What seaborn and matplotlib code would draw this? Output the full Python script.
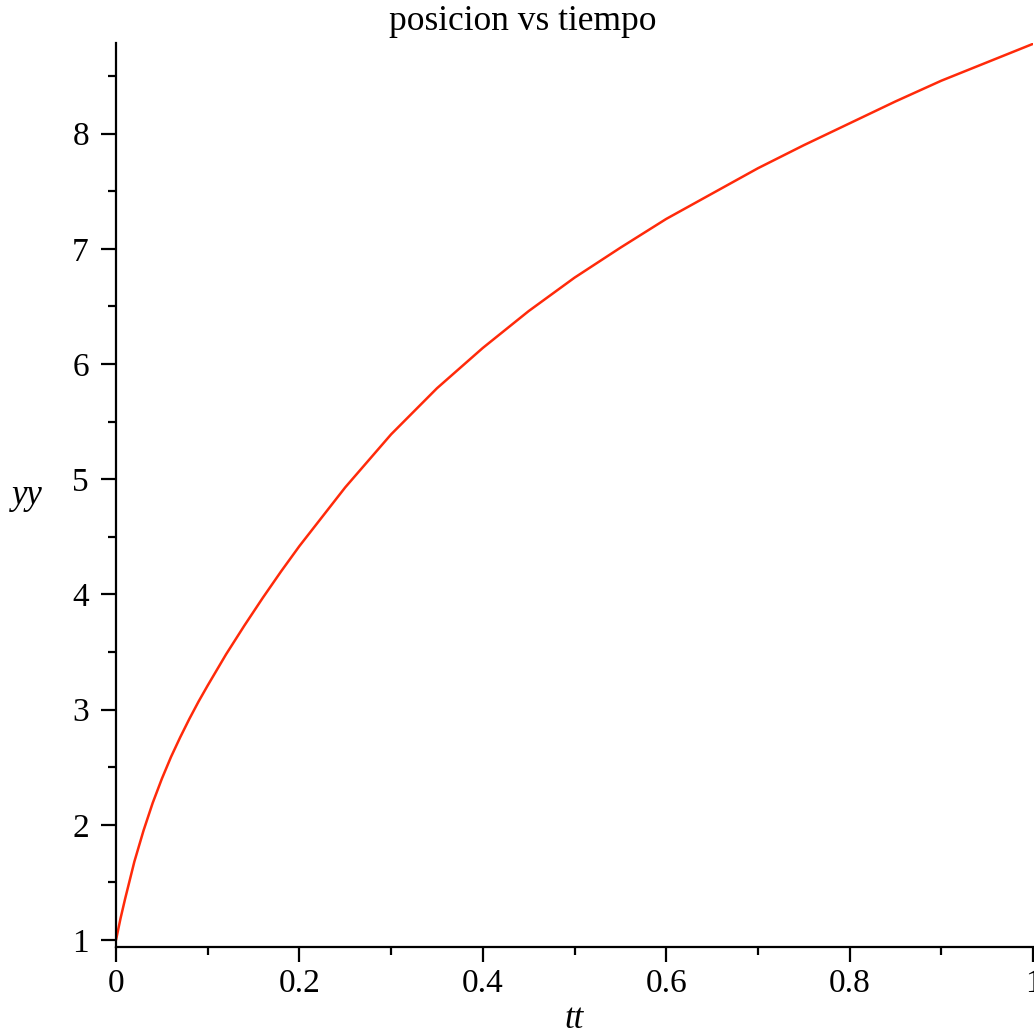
import matplotlib
matplotlib.use("Agg")
import matplotlib.pyplot as plt
import seaborn as sns
import pandas as pd
from matplotlib.ticker import MultipleLocator

# Data
tt = [0.000, 0.005, 0.010, 0.020, 0.030, 0.040, 0.050, 0.060, 0.070, 0.080,
      0.090, 0.100, 0.120, 0.140, 0.160, 0.180, 0.200, 0.250, 0.300, 0.350,
      0.400, 0.450, 0.500, 0.550, 0.600, 0.650, 0.700, 0.750, 0.800, 0.850,
      0.900, 0.950, 1.000]
yy = [1.00, 1.19, 1.36, 1.68, 1.95, 2.19, 2.40, 2.59, 2.76, 2.92,
      3.07, 3.21, 3.48, 3.73, 3.97, 4.20, 4.42, 4.93, 5.39, 5.79,
      6.14, 6.46, 6.75, 7.01, 7.26, 7.48, 7.70, 7.90, 8.09, 8.28,
      8.46, 8.62, 8.78]
x_ticks = [0, 0.2, 0.4, 0.6, 0.8, 1]
x_tick_labels = ["0", "0.2", "0.4", "0.6", "0.8", "1"]
y_ticks = [1, 2, 3, 4, 5, 6, 7, 8]
title_text = "posicion vs tiempo"
x_label = "tt"
y_label = "yy"

sns.set_theme(style="white")
plt.rcParams["font.family"] = ["Liberation Serif", "DejaVu Serif"]

df = pd.DataFrame({"tt": tt, "yy": yy})

fig = plt.figure(figsize=(10.34, 10.36), dpi=100)
ax = fig.add_axes([116 / 1034, 1 - 947.3 / 1036, (1033 - 116) / 1034, (947.3 - 42.7) / 1036])

sns.lineplot(data=df, x="tt", y="yy", ax=ax, color="#ff2a0a", linewidth=1.8, sort=False)

ax.set_xlim(0, 1)
ax.set_ylim(0.937, 8.79)

for s in ["top", "right"]:
    ax.spines[s].set_visible(False)
for s in ["left", "bottom"]:
    ax.spines[s].set_visible(True)
    ax.spines[s].set_color("black")
    ax.spines[s].set_linewidth(1.6)

ax.set_xticks(x_ticks)
ax.set_xticklabels(x_tick_labels)
ax.set_yticks(y_ticks)
ax.set_yticklabels([str(v) for v in y_ticks])
ax.xaxis.set_minor_locator(MultipleLocator(0.1))
ax.yaxis.set_minor_locator(MultipleLocator(0.5))

ax.tick_params(axis="both", which="major", direction="out", length=10.5, width=1.6,
               color="black", labelsize=24, labelcolor="black")
ax.tick_params(axis="both", which="minor", direction="out", length=6, width=1.6, color="black")
ax.tick_params(axis="y", which="major", pad=9)
ax.tick_params(axis="x", which="major", pad=5)
ax.tick_params(axis="both", which="both", bottom=True, left=True)

ax.set_xlabel(x_label, fontsize=25, style="italic", color="black")
ax.set_ylabel(y_label, fontsize=25, style="italic", color="black", rotation=0)
ax.xaxis.set_label_coords(0.5, (947.3 - 1019) / 904.6)
ax.xaxis.label.set_va("center")
ax.yaxis.set_label_coords((27.5 - 116) / 917, 0.5)
ax.yaxis.label.set_va("center")
ax.yaxis.label.set_ha("center")
ax.grid(False)

fig.text(522.5 / 1034, 1 - 22 / 1036, title_text, fontsize=25.5, ha="center", va="center", color="black")

fig.savefig("out.png", dpi=100, facecolor="white")
